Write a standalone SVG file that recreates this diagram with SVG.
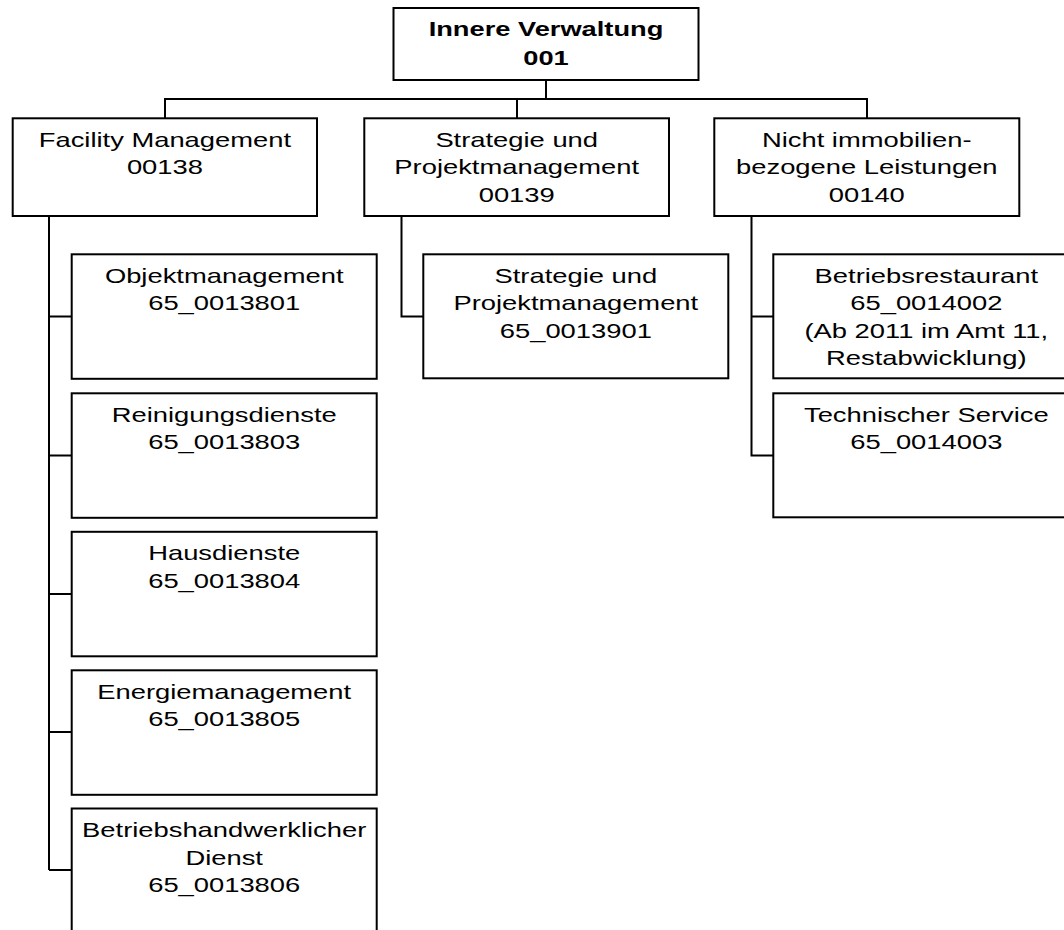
<svg xmlns="http://www.w3.org/2000/svg" width="1064" height="930" viewBox="0 0 1064 930">
<style>
rect.box{fill:#fff;stroke:#000;stroke-width:2}
.con line, .con path{stroke:#000;stroke-width:2;fill:none}
text{font-family:"Liberation Sans",Arial,sans-serif;font-size:20.5px;fill:#000;text-anchor:middle}
text.b{font-weight:bold}
</style>
<rect width="1064" height="930" fill="#fff"/>
<g class="con">
<path d="M546,80 V99 M165,118 V99 H867 V118 M517,99 V118"/>
<path d="M49,216 V870 M49,316.5 H72 M49,455.5 H72 M49,594 H72 M49,732 H72 M49,870 H72"/>
<path d="M401.5,216 V316.5 H423"/>
<path d="M751.5,216 V455.5 H773 M751.5,316.5 H773"/>
</g>
<g id="n001"><rect class="box" x="393.5" y="8" width="305" height="72"/>
<text class="b" transform="translate(546,0) scale(1.33,1)"><tspan x="0" y="36">Innere Verwaltung</tspan><tspan x="0" y="65">001</tspan></text></g>
<g id="n00138"><rect class="box" x="12.7" y="118.3" width="304.3" height="97.7"/>
<text transform="translate(164.9,0) scale(1.335,1)"><tspan x="0" y="147">Facility Management</tspan><tspan x="0" y="174.5">00138</tspan></text></g>
<g id="n00139"><rect class="box" x="364.3" y="118.3" width="304.7" height="97.7"/>
<text transform="translate(516.7,0) scale(1.335,1)"><tspan x="0" y="147">Strategie und</tspan><tspan x="0" y="174.5">Projektmanagement</tspan><tspan x="0" y="202">00139</tspan></text></g>
<g id="n00140"><rect class="box" x="714.3" y="118.3" width="305" height="97.7"/>
<text transform="translate(866.8,0) scale(1.335,1)"><tspan x="0" y="147">Nicht immobilien-</tspan><tspan x="0" y="174.5">bezogene Leistungen</tspan><tspan x="0" y="202">00140</tspan></text></g>
<g id="n13801"><rect class="box" x="71.7" y="254.3" width="305" height="124.5"/>
<text transform="translate(224.2,0) scale(1.335,1)"><tspan x="0" y="283">Objektmanagement</tspan><tspan x="0" y="310.5">65_0013801</tspan></text></g>
<g id="n13803"><rect class="box" x="71.7" y="393.3" width="305" height="124.5"/>
<text transform="translate(224.2,0) scale(1.335,1)"><tspan x="0" y="422">Reinigungsdienste</tspan><tspan x="0" y="449.5">65_0013803</tspan></text></g>
<g id="n13804"><rect class="box" x="71.7" y="531.8" width="305" height="124.5"/>
<text transform="translate(224.2,0) scale(1.335,1)"><tspan x="0" y="560.5">Hausdienste</tspan><tspan x="0" y="588">65_0013804</tspan></text></g>
<g id="n13805"><rect class="box" x="71.7" y="670.3" width="305" height="124.5"/>
<text transform="translate(224.2,0) scale(1.335,1)"><tspan x="0" y="699">Energiemanagement</tspan><tspan x="0" y="726.5">65_0013805</tspan></text></g>
<g id="n13806"><rect class="box" x="71.7" y="808.5" width="305" height="140"/>
<text transform="translate(224.2,0) scale(1.335,1)"><tspan x="0" y="837.5">Betriebshandwerklicher</tspan><tspan x="0" y="865">Dienst</tspan><tspan x="0" y="892.5">65_0013806</tspan></text></g>
<g id="n13901"><rect class="box" x="423.3" y="254.3" width="305" height="124"/>
<text transform="translate(575.8,0) scale(1.335,1)"><tspan x="0" y="283">Strategie und</tspan><tspan x="0" y="310.5">Projektmanagement</tspan><tspan x="0" y="338">65_0013901</tspan></text></g>
<g id="n14002"><rect class="box" x="773.3" y="254.3" width="306" height="124"/>
<text transform="translate(926.3,0) scale(1.335,1)"><tspan x="0" y="283">Betriebsrestaurant</tspan><tspan x="0" y="310.5">65_0014002</tspan><tspan x="0" y="338">(Ab 2011 im Amt 11,</tspan><tspan x="0" y="365.5">Restabwicklung)</tspan></text></g>
<g id="n14003"><rect class="box" x="773.3" y="393.3" width="306" height="124"/>
<text transform="translate(926.3,0) scale(1.335,1)"><tspan x="0" y="422">Technischer Service</tspan><tspan x="0" y="449.5">65_0014003</tspan></text></g>
</svg>
